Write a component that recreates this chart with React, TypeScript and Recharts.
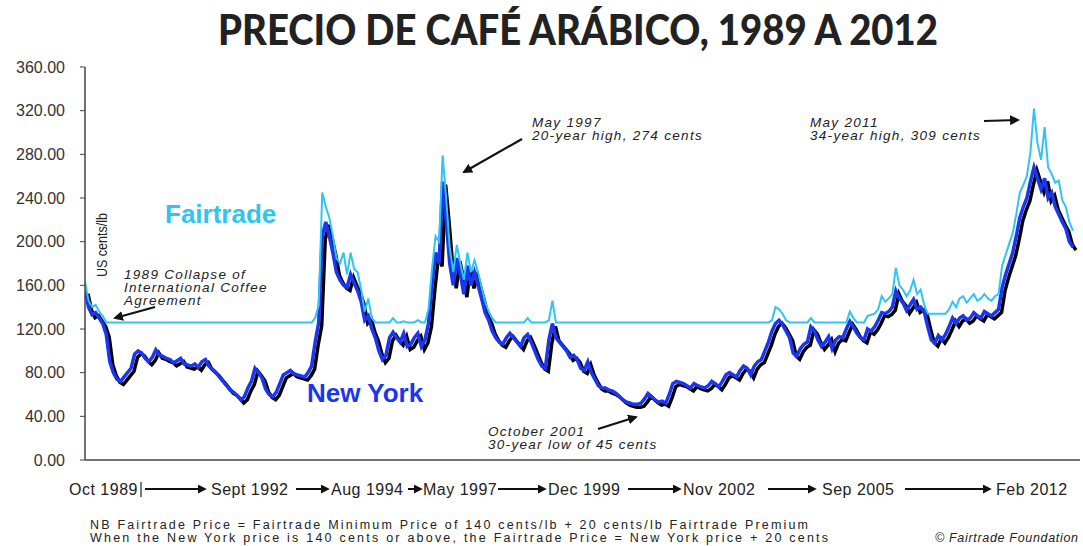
import React from 'react';
import { LineChart, Line, XAxis, YAxis } from 'recharts';

// US cents/lb, one value per month from Jan 1989
const yTicks = [0, 40, 80, 120, 160, 200, 240, 280, 320, 360];

const periodLabels = ['Oct 1989', 'Sept 1992', 'Aug 1994', 'May 1997', 'Dec 1999', 'Nov 2002', 'Sep 2005', 'Feb 2012'];

const newYork = [
    155, 140, 133, 135, 130, 125, 115, 90, 80, 74, 72, 76, // 1989
    80, 84, 97, 100, 98, 93, 90, 94, 101, 96, 95, 93, // 1990
    92, 89, 91, 93, 88, 87, 86, 88, 85, 90, 92, 86, // 1991
    83, 80, 76, 72, 68, 64, 62, 59, 55, 58, 66, 72, // 1992
    84, 80, 75, 65, 60, 58, 62, 70, 78, 80, 82, 79, // 1993
    78, 77, 76, 80, 86, 108, 126, 205, 218, 205, 190, 172, // 1994
    165, 160, 158, 170, 162, 155, 145, 128, 132, 120, 112, 100, // 1995
    92, 96, 112, 117, 112, 108, 116, 104, 106, 112, 116, 104, // 1996
    110, 125, 160, 190, 180, 255, 220, 180, 160, 185, 170, 152, // 1997
    178, 160, 172, 160, 148, 135, 128, 118, 112, 108, 106, 112, // 1998
    116, 112, 108, 104, 112, 115, 108, 100, 92, 86, 84, 110, // 1999
    125, 112, 108, 104, 100, 94, 96, 92, 84, 82, 90, 80, // 2000
    74, 68, 66, 66, 64, 63, 61, 58, 55, 53, 52, 51, // 2001
    51, 52, 56, 61, 58, 55, 53, 54, 52, 60, 70, 72, // 2002
    71, 70, 68, 66, 70, 68, 67, 66, 68, 72, 70, 67, // 2003
    72, 78, 80, 78, 76, 82, 86, 84, 78, 86, 90, 92, // 2004
    100, 108, 118, 125, 128, 124, 118, 112, 98, 95, 102, 106, // 2005
    108, 122, 118, 110, 104, 108, 113, 102, 110, 113, 112, 120, // 2006
    127, 122, 116, 112, 110, 120, 118, 122, 128, 135, 134, 136, // 2007
    140, 155, 148, 144, 137, 142, 147, 138, 140, 136, 122, 110, // 2008
    107, 114, 110, 115, 122, 130, 125, 130, 132, 128, 130, 135, // 2009
    132, 130, 136, 134, 132, 135, 138, 158, 170, 180, 190, 205, // 2010
    222, 232, 240, 255, 268, 258, 248, 258, 240, 245, 232, 225, // 2011
    218, 212, 200, 195, // 2012
];

const fairtrade = [
    163, 146, 140, 142, 136, 132, 126, 126, 126, 126, 126, 126,
    126, 126, 126, 126, 126, 126, 126, 126, 126, 126, 126, 126,
    126, 126, 126, 126, 126, 126, 126, 126, 126, 126, 126, 126,
    126, 126, 126, 126, 126, 126, 126, 126, 126, 126, 126, 126,
    126, 126, 126, 126, 126, 126, 126, 126, 126, 126, 126, 126,
    126, 126, 126, 126, 126, 130, 142, 245, 232, 222, 205, 185,
    180, 190, 170, 190, 175, 172, 156, 136, 148, 130, 126, 126,
    126, 126, 126, 130, 126, 126, 127, 126, 126, 126, 128, 126,
    126, 138, 175, 205, 200, 279, 240, 195, 172, 197, 180, 165,
    190, 172, 183, 172, 158, 145, 136, 130, 126, 126, 126, 126,
    126, 126, 126, 126, 126, 130, 126, 126, 126, 126, 126, 128,
    146, 126, 126, 126, 126, 126, 126, 126, 126, 126, 126, 126,
    126, 126, 126, 126, 126, 126, 126, 126, 126, 126, 126, 126,
    126, 126, 126, 126, 126, 126, 126, 126, 126, 126, 126, 126,
    126, 126, 126, 126, 126, 126, 126, 126, 126, 126, 126, 126,
    126, 126, 126, 126, 126, 126, 126, 126, 126, 126, 126, 126,
    126, 126, 128, 140, 138, 134, 128, 126, 126, 126, 126, 126,
    126, 130, 126, 126, 126, 126, 126, 126, 126, 126, 126, 126,
    136, 130, 126, 126, 126, 132, 133, 134, 138, 150, 145, 148,
    152, 176, 160, 156, 150, 155, 165, 152, 156, 142, 134, 134,
    134, 134, 134, 134, 138, 145, 140, 148, 150, 144, 148, 152,
    146, 148, 152, 148, 146, 150, 152, 178, 188, 198, 208, 225,
    245, 252, 260, 282, 322, 290, 275, 305, 268, 262, 254, 256,
    238, 232, 218, 210,
];

const rows = newYork.map((v, i) => ({ m: i, ny: v, ft: fairtrade[i] }));

const FONT = '"Liberation Sans", Arial, Helvetica, sans-serif';
const CYAN = '#2ec5f3';
const BLUE = '#1b36f0';

// x positions of the period labels along the bottom
const labelX = [69, 211, 331, 423, 548, 683, 822, 996];
const arrows = [
    [145, 205],
    [296, 328],
    [408, 421],
    [498, 545],
    [628, 680],
    [768, 815],
    [905, 990],
];

const App: React.FC = () => {
    return (
        <div style={{ position: 'relative', width: 1083, height: 546, background: '#fff', overflow: 'hidden' }}>
            <style>{`body{margin:0} .ny-shadow .recharts-line-curve{transform:translate(3px,3px)}`}</style>
            <div style={{ position: 'absolute', left: 0, top: 0 }}>
                <LineChart width={1083} height={546} data={rows} margin={{ top: 67, right: 3, bottom: 85, left: 0 }}>
                    <XAxis
                        type="number"
                        dataKey="m"
                        domain={[0, 281]}
                        tick={false}
                        tickLine={false}
                        height={1}
                        axisLine={{ stroke: '#444', strokeWidth: 1.5 }}
                        allowDataOverflow
                    />
                    <YAxis
                        domain={[0, 360]}
                        ticks={yTicks}
                        interval={0}
                        width={85}
                        tickSize={5}
                        tickMargin={15}
                        tickFormatter={(v: number) => v.toFixed(2)}
                        axisLine={{ stroke: '#444', strokeWidth: 1.5 }}
                        tickLine={{ stroke: '#444' }}
                        tick={{ fontSize: 16, fill: '#333', fontFamily: FONT }}
                        allowDataOverflow
                    />
                    <Line
                        className="ny-shadow"
                        dataKey="ny"
                        type="linear"
                        stroke="#000"
                        strokeWidth={3.5}
                        dot={false}
                        isAnimationActive={false}
                    />
                    <Line dataKey="ny" type="linear" stroke={BLUE} strokeWidth={3.5} dot={false} isAnimationActive={false} />
                    <Line dataKey="ft" type="linear" stroke={CYAN} strokeWidth={2} dot={false} isAnimationActive={false} />
                </LineChart>
            </div>
            <svg width={1083} height={546} style={{ position: 'absolute', left: 0, top: 0, pointerEvents: 'none' }}>
                <defs>
                    <marker id="ah" viewBox="0 0 10 10" refX="8" refY="5" markerWidth="4.5" markerHeight="4.5" orient="auto">
                        <path d="M0,0 L10,5 L0,10 z" fill="#111" />
                    </marker>
                </defs>

                <text x={578} y={45} textAnchor="middle" textLength={720} lengthAdjust="spacingAndGlyphs"
                    style={{ fontFamily: 'Lato, sans-serif', fontWeight: 900, fontSize: 42, fill: '#222' }}>
                    PRECIO DE CAFÉ ARÁBICO, 1989 A 2012
                </text>

                <text x={165} y={223} style={{ fontFamily: FONT, fontWeight: 700, fontSize: 26, fill: CYAN }}>Fairtrade</text>
                <text x={307} y={402} style={{ fontFamily: FONT, fontWeight: 700, fontSize: 26, fill: BLUE }}>New York</text>

                <text x={107} y={245} textAnchor="middle" transform="rotate(-90, 107, 245)" textLength={64}
                    lengthAdjust="spacingAndGlyphs" style={{ fontFamily: FONT, fontSize: 15, fill: '#222' }}>
                    US cents/lb
                </text>

                <g style={{ fontFamily: FONT, fontStyle: 'italic', fontSize: 13.5, fill: '#222', letterSpacing: 1.3 }}>
                    <text x={124} y={279}>1989 Collapse of</text>
                    <text x={124} y={292}>International Coffee</text>
                    <text x={124} y={305}>Agreement</text>
                    <text x={532} y={127}>May 1997</text>
                    <text x={532} y={140}>20-year high, 274 cents</text>
                    <text x={810} y={127}>May 2011</text>
                    <text x={810} y={140}>34-year high, 309 cents</text>
                    <text x={488} y={436}>October 2001</text>
                    <text x={488} y={449}>30-year low of 45 cents</text>
                </g>
                <g stroke="#111" strokeWidth={2.2} markerEnd="url(#ah)">
                    <line x1={155} y1={307} x2={115} y2={318} />
                    <line x1={522} y1={139} x2={464} y2={172} />
                    <line x1={984} y1={121} x2={1018} y2={120} />
                    <line x1={598} y1={429} x2={636} y2={417} />
                </g>

                <g style={{ fontFamily: FONT, fontSize: 16, fill: '#222', letterSpacing: 0.5 }}>
                    {periodLabels.map((t, i) => (
                        <text key={t} x={labelX[i]} y={495}>{t}</text>
                    ))}
                </g>
                <line x1={141} y1={482} x2={141} y2={497} stroke="#222" strokeWidth={1.2} />
                <g stroke="#111" strokeWidth={2} markerEnd="url(#ah)">
                    {arrows.map(([a, b]) => (
                        <line key={a} x1={a} y1={489} x2={b} y2={489} />
                    ))}
                </g>

                <g style={{ fontFamily: FONT, fontSize: 12.5, fill: '#222' }}>
                    <text x={90} y={529} textLength={718} lengthAdjust="spacing">
                        NB Fairtrade Price = Fairtrade Minimum Price of 140 cents/lb + 20 cents/lb Fairtrade Premium
                    </text>
                    <text x={90} y={541.5} textLength={738} lengthAdjust="spacing">
                        When the New York price is 140 cents or above, the Fairtrade Price = New York price + 20 cents
                    </text>
                    <text x={935} y={541.5} textLength={143} lengthAdjust="spacing" style={{ fontStyle: 'italic' }}>
                        © Fairtrade Foundation
                    </text>
                </g>
            </svg>
        </div>
    );
};

export default App;
